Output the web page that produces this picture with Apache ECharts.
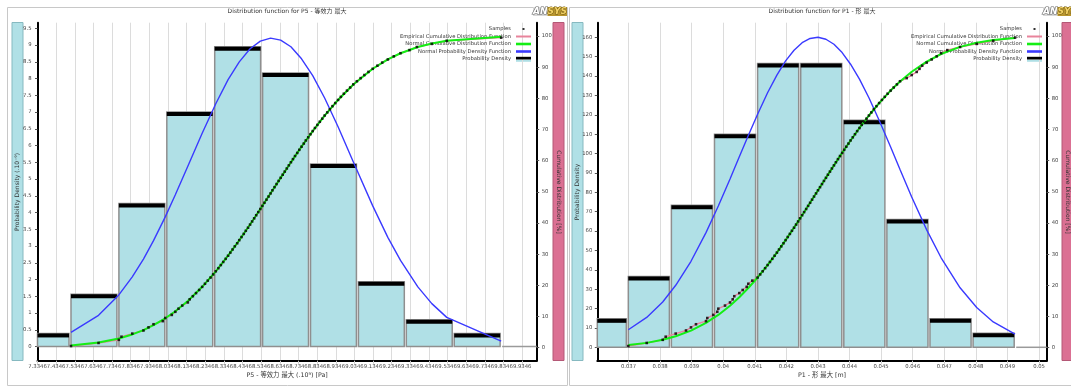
<!DOCTYPE html>
<html>
<head>
<meta charset="utf-8">
<script src="https://cdn.jsdelivr.net/npm/echarts@6/dist/echarts.min.js"></script>
<style>
  html, body { margin: 0; padding: 0; background: #fff; }
  #chart { width: 1071px; height: 387px; }
</style>
</head>
<body>
<div id="chart"></div>
<script>
// ---- P5 (等效力) ----
const p5BinEdges = [7.2573, 7.5143, 7.7713, 8.0283, 8.2853, 8.5422, 8.7992, 9.0562, 9.3131, 9.5701, 9.8271, 10.084];
const p5BinHeights = [0.39, 1.56, 4.27, 7.0, 8.95, 8.17, 5.45, 1.93, 0.8, 0.39, 0];
const p5Samples = [
  7.5143, 7.662, 7.771, 7.785, 7.843, 7.903, 7.930, 7.957, 8.007, 8.020,
  8.055, 8.074, 8.091, 8.111, 8.141, 8.151, 8.168, 8.185, 8.202, 8.218,
  8.233, 8.248, 8.263, 8.277, 8.291, 8.305, 8.318, 8.331, 8.344, 8.357,
  8.369, 8.381, 8.393, 8.406, 8.417, 8.429, 8.441, 8.452, 8.464, 8.475,
  8.486, 8.497, 8.508, 8.519, 8.530, 8.541, 8.552, 8.563, 8.574, 8.585,
  8.595, 8.606, 8.617, 8.628, 8.639, 8.650, 8.661, 8.672, 8.683, 8.694,
  8.705, 8.716, 8.728, 8.739, 8.751, 8.763, 8.774, 8.787, 8.799, 8.811,
  8.823, 8.836, 8.849, 8.862, 8.875, 8.889, 8.903, 8.917, 8.932, 8.947,
  8.962, 8.978, 8.995, 9.012, 9.029, 9.048, 9.068, 9.088, 9.110, 9.133,
  9.158, 9.184, 9.214, 9.246, 9.282, 9.330, 9.370, 9.450, 9.530, 9.822
];
const p5FitX = [7.5143, 7.662, 7.771, 7.843, 7.903, 7.957, 8.020, 8.074, 8.141, 8.218,
  8.291, 8.357, 8.417, 8.475, 8.530, 8.585, 8.639, 8.694, 8.751, 8.811,
  8.875, 8.947, 9.029, 9.133, 9.214, 9.282, 9.375, 9.45, 9.53, 9.822];
const p5NormalCdf = [0.65, 1.61, 2.93, 4.23, 5.63, 7.19, 9.41, 11.66, 14.99, 19.52,
  24.48, 29.53, 34.46, 39.51, 44.49, 49.54, 54.50, 59.48, 64.50, 69.50,
  74.48, 79.51, 84.47, 89.51, 92.52, 94.50, 96.51, 97.65, 98.50, 99.78];
const p5NormalPdf = [0.42, 0.93, 1.54, 2.08, 2.61, 3.16, 3.87, 4.53, 5.38, 6.37,
  7.25, 7.97, 8.50, 8.89, 9.12, 9.21, 9.15, 8.95, 8.59, 8.09,
  7.42, 6.56, 5.51, 4.20, 3.26, 2.57, 1.78, 1.28, 0.87, 0.16];
const p5XTicks = [7.3346, 7.4346, 7.5346, 7.6346, 7.7346, 7.8346, 7.9346, 8.0346, 8.1346,
  8.2346, 8.3346, 8.4346, 8.5346, 8.6346, 8.7346, 8.8346, 8.9346, 9.0346, 9.1346,
  9.2346, 9.3346, 9.4346, 9.5346, 9.6346, 9.7346, 9.8346, 9.9346];
const p5DensityTicks = [0, 0.5, 1, 1.5, 2, 2.5, 3, 3.5, 4, 4.5, 5, 5.5, 6, 6.5, 7, 7.5, 8, 8.5, 9, 9.5];

// ---- P1 (形) ----
const p1BinEdges = [0.035629, 0.036994, 0.038358, 0.039723, 0.041088, 0.042453, 0.043818,
  0.045182, 0.046547, 0.047912, 0.049277, 0.050641];
const p1BinHeights = [14.7, 36.6, 73.3, 110, 146.5, 146.5, 117.2, 66, 14.7, 7.3, 0];
const p1Samples = [
  0.036994, 0.037576, 0.038083, 0.038178, 0.038495, 0.038821, 0.038979, 0.039137, 0.039454, 0.039495,
  0.039685, 0.039812, 0.039844, 0.040056, 0.040215, 0.040300, 0.040350, 0.040509, 0.040616, 0.040743,
  0.040794, 0.040920, 0.041088, 0.041170, 0.041250, 0.041327, 0.041404, 0.041479, 0.041554, 0.041626,
  0.041699, 0.041768, 0.041838, 0.041908, 0.041975, 0.042043, 0.042110, 0.042175, 0.042242, 0.042307,
  0.042372, 0.042434, 0.042499, 0.042561, 0.042626, 0.042688, 0.042751, 0.042813, 0.042875, 0.042939,
  0.043001, 0.043065, 0.043127, 0.043189, 0.043252, 0.043314, 0.043379, 0.043441, 0.043506, 0.043568,
  0.043633, 0.043698, 0.043765, 0.043830, 0.043897, 0.043965, 0.044032, 0.044102, 0.044172, 0.044241,
  0.044314, 0.044386, 0.044461, 0.044536, 0.044613, 0.044690, 0.044770, 0.044852, 0.044937, 0.045024,
  0.045114, 0.045204, 0.045301, 0.045398, 0.045500, 0.045598, 0.045810, 0.045968, 0.046126, 0.046215,
  0.046300, 0.046443, 0.046601, 0.046759, 0.046900, 0.047095, 0.047500, 0.048026, 0.048550, 0.049240
];
const p1FitX = [0.036994, 0.037576, 0.038083, 0.038495, 0.038979, 0.039454, 0.039844, 0.040215,
  0.040509, 0.040794, 0.041088, 0.041404, 0.041699, 0.041975, 0.042242, 0.042499, 0.042751,
  0.043001, 0.043252, 0.043506, 0.043765, 0.044032, 0.044314, 0.044613, 0.044937, 0.045301,
  0.045598, 0.045968, 0.046443, 0.046900, 0.047500, 0.048026, 0.048550, 0.049240];
const p1NormalCdf = [0.83, 1.52, 2.50, 3.63, 5.47, 7.93, 10.49, 13.46, 16.18, 19.13, 22.51,
  26.50, 30.50, 34.49, 38.51, 42.50, 46.50, 50.50, 54.50, 58.51, 62.51, 66.49, 70.51, 74.51,
  78.49, 82.51, 85.41, 88.55, 91.82, 94.25, 96.54, 97.87, 98.74, 99.40];
const p1NormalPdf = [9.04, 15.4, 23.4, 32.0, 44.4, 59.2, 72.9, 86.9, 98.3, 109.3, 120.3,
  131.4, 140.5, 147.8, 153.3, 157.2, 159.4, 160.0, 159.0, 156.4, 152.1, 146.1, 138.4, 128.8,
  117.2, 103.4, 91.8, 77.6, 60.6, 46.2, 30.7, 20.5, 13.1, 6.75];
const p1XTicks = [0.037, 0.038, 0.039, 0.04, 0.041, 0.042, 0.043, 0.044, 0.045, 0.046, 0.047, 0.048, 0.049, 0.05];
const p1DensityTicks = [0, 10, 20, 30, 40, 50, 60, 70, 80, 90, 100, 110, 120, 130, 140, 150, 160];

// shared
const sampleCumulative = [
  0.5, 1.5, 2.5, 3.5, 4.5, 5.5, 6.5, 7.5, 8.5, 9.5,
  10.5, 11.5, 12.5, 13.5, 14.5, 15.5, 16.5, 17.5, 18.5, 19.5,
  20.5, 21.5, 22.5, 23.5, 24.5, 25.5, 26.5, 27.5, 28.5, 29.5,
  30.5, 31.5, 32.5, 33.5, 34.5, 35.5, 36.5, 37.5, 38.5, 39.5,
  40.5, 41.5, 42.5, 43.5, 44.5, 45.5, 46.5, 47.5, 48.5, 49.5,
  50.5, 51.5, 52.5, 53.5, 54.5, 55.5, 56.5, 57.5, 58.5, 59.5,
  60.5, 61.5, 62.5, 63.5, 64.5, 65.5, 66.5, 67.5, 68.5, 69.5,
  70.5, 71.5, 72.5, 73.5, 74.5, 75.5, 76.5, 77.5, 78.5, 79.5,
  80.5, 81.5, 82.5, 83.5, 84.5, 85.5, 86.5, 87.5, 88.5, 89.5,
  90.5, 91.5, 92.5, 93.5, 94.5, 95.5, 96.5, 97.5, 98.5, 99.5
];
const cumulativeTicks = [0, 10, 20, 30, 40, 50, 60, 70, 80, 90, 100];

const FONT = 'DejaVu Sans, Noto Sans CJK SC';
const LIGHT_BLUE = '#b0e0e6';

function pairs(xs, ys) { return xs.map((x, i) => [x, ys[i]]); }
function bins(edges, heights) { return heights.map((h, i) => [edges[i], edges[i + 1], h]); }

// histogram bar: light blue body, grey outline, black cap
function renderBin(params, api) {
  const cs = params.coordSys;
  const lo = api.coord([api.value(0), 0]);
  const hi = api.coord([api.value(1), api.value(2)]);
  const x0 = Math.max(lo[0], cs.x);
  const x1 = Math.min(hi[0] - 2, cs.x + cs.width);
  if (x1 <= x0) return;
  const base = lo[1], top = hi[1];
  if (api.value(2) <= 0) {
    return { type: 'line', shape: { x1: x0, y1: base, x2: x1, y2: base },
      style: { stroke: '#9a9a9a', lineWidth: 1.5 } };
  }
  return {
    type: 'group',
    children: [
      { type: 'rect', shape: { x: x0, y: top, width: x1 - x0, height: base - top },
        style: { fill: LIGHT_BLUE, stroke: '#8f8f8f', lineWidth: 1.5 } },
      { type: 'rect', shape: { x: x0, y: top, width: x1 - x0, height: 4 }, style: { fill: '#000' } }
    ]
  };
}

function panelSeries(k, edges, heights, samples, fitX, cdf, pdf) {
  const yl = 2 * k, yr = 2 * k + 1;
  return [
    { type: 'custom', name: 'Probability Density', xAxisIndex: k, yAxisIndex: yl,
      renderItem: renderBin, data: bins(edges, heights), encode: { x: [0, 1], y: 2 },
      itemStyle: { color: '#000' }, z: 2 },
    { type: 'line', name: 'Normal Probability Density Function', xAxisIndex: k, yAxisIndex: yl,
      data: pairs(fitX, pdf), showSymbol: false, itemStyle: { color: '#3a3aff' },
      lineStyle: { color: '#3a3aff', width: 1.4 }, z: 3 },
    { type: 'line', name: 'Empirical Cumulative Distribution Function', xAxisIndex: k, yAxisIndex: yr,
      data: pairs(samples, sampleCumulative), showSymbol: false, itemStyle: { color: '#e8849c' },
      lineStyle: { color: '#e8849c', width: 1.4 }, z: 4 },
    { type: 'line', name: 'Normal Cumulative Distribution Function', xAxisIndex: k, yAxisIndex: yr,
      data: pairs(fitX, cdf), showSymbol: false, itemStyle: { color: '#14ee14' },
      lineStyle: { color: '#14ee14', width: 2 }, z: 5 },
    { type: 'scatter', name: 'Samples', xAxisIndex: k, yAxisIndex: yr,
      data: pairs(samples, sampleCumulative), symbol: 'rect', symbolSize: 2.6,
      itemStyle: { color: '#000' }, z: 6 }
  ];
}

const labelStyle = { fontSize: 5.3, color: '#444', fontFamily: FONT };

function xAxisFor(k, min, max, ticks, name, fmt) {
  return {
    gridIndex: k, type: 'value', min, max,
    name, nameLocation: 'middle', nameGap: 12, nameMoveOverlap: false,
    nameTextStyle: { fontSize: 6.3, color: '#333', fontFamily: FONT },
    axisLine: { onZero: false, lineStyle: { color: '#000', width: 2 } },
    axisTick: { show: true, customValues: ticks, length: 3, lineStyle: { color: '#c8c8c8' } },
    axisLabel: Object.assign({ customValues: ticks, margin: 3, formatter: fmt }, labelStyle),
    splitLine: { show: true, lineStyle: { color: '#dcdcdc', width: 1 } }
  };
}

function yAxisFor(k, position, min, max, ticks, margin) {
  return {
    gridIndex: k, type: 'value', position, min, max,
    axisLine: { show: true, onZero: false, lineStyle: { color: '#000', width: 2 } },
    axisTick: { show: true, customValues: ticks, length: 2.5, lineStyle: { color: '#555' } },
    axisLabel: Object.assign({ customValues: ticks, margin, formatter: v => String(v) }, labelStyle),
    splitLine: { show: false }
  };
}

function legendFor(right) {
  const bar = 'path://M0,0M15,5M0,1.2h15v2.6h-15z';
  return {
    orient: 'vertical', right, top: 25.25, align: 'right', padding: 0, itemGap: 0,
    itemWidth: 15, itemHeight: 5, selectedMode: false,
    textStyle: { fontSize: 5.2, color: '#333', lineHeight: 7.5, fontFamily: FONT },
    data: [
      { name: 'Samples', icon: 'path://M0,0M15,5M6.5,1.5h2v2h-2z' },
      { name: 'Empirical Cumulative Distribution Function', icon: 'path://M0,0M15,5M0,1.5h15v2h-15z' },
      { name: 'Normal Cumulative Distribution Function', icon: bar },
      { name: 'Normal Probability Density Function', icon: bar },
      { name: 'Probability Density', icon: 'path://M0,0M15,5M0,0.3h15v2.7h-15z' }
    ]
  };
}

function strip(x, fill, stroke, text, rot) {
  return [
    { type: 'rect', shape: { x, y: 22.5, width: 11, height: 338 },
      style: { fill, stroke, lineWidth: 1 } },
    { type: 'text', x: x + 5.5, y: 192, rotation: rot,
      style: { text, fontSize: 6, fill: '#333', align: 'center', verticalAlign: 'middle', fontFamily: FONT } }
  ];
}

function logo(x) {
  return { type: 'text', x, y: 7,
    style: {
      text: '{a|AN}{s|SYS}',
      rich: {
        a: { fontSize: 9, fontWeight: 'bold', fontStyle: 'italic', fontFamily: 'DejaVu Sans',
             fill: '#fff', stroke: '#6a6a6a', lineWidth: 1.2, backgroundColor: '#d8d8d8' },
        s: { fontSize: 9, fontWeight: 'bold', fontStyle: 'italic', fontFamily: 'DejaVu Sans',
             fill: '#f3d266', stroke: '#6b5510', lineWidth: 0.8, backgroundColor: '#b8952e' }
      }
    } };
}

const chart = echarts.init(document.getElementById('chart'), null, { renderer: 'canvas' });

chart.setOption({
  animation: false,
  backgroundColor: '#fff',
  title: [
    { text: 'Distribution function for P5 - 等效力 最大', left: 287, top: 8.5, textAlign: 'center', padding: 0,
      textStyle: { fontSize: 6, fontWeight: 'normal', color: '#333', fontFamily: FONT } },
    { text: 'Distribution function for P1 - 形 最大', left: 822, top: 8.5, textAlign: 'center', padding: 0,
      textStyle: { fontSize: 6, fontWeight: 'normal', color: '#333', fontFamily: FONT } }
  ],
  legend: [legendFor(540), legendFor(29)],
  grid: [
    { left: 37.5, right: 534.3, top: 22.7, bottom: 26.3, outerBoundsMode: 'none' },
    { left: 597.3, right: 24.3, top: 22.7, bottom: 26.3, outerBoundsMode: 'none' }
  ],
  xAxis: [
    xAxisFor(0, 7.3346, 10.0126, p5XTicks, 'P5 - 等效力 最大 (.10⁹) [Pa]', v => v.toFixed(4)),
    xAxisFor(1, 0.036012, 0.050243, p1XTicks, 'P1 - 形 最大 [m]', v => String(+v.toFixed(6)))
  ],
  yAxis: [
    yAxisFor(0, 'left', -0.424, 9.669, p5DensityTicks, 6),
    yAxisFor(0, 'right', -4.2, 104.3, cumulativeTicks, 5),
    yAxisFor(1, 'left', -6.92, 167.53, p1DensityTicks, 5),
    yAxisFor(1, 'right', -4.2, 104.3, cumulativeTicks, 5)
  ],
  series: [].concat(
    panelSeries(0, p5BinEdges, p5BinHeights, p5Samples, p5FitX, p5NormalCdf, p5NormalPdf),
    panelSeries(1, p1BinEdges, p1BinHeights, p1Samples, p1FitX, p1NormalCdf, p1NormalPdf)
  ),
  graphic: [].concat(
    [
      { type: 'rect', shape: { x: 7.5, y: 7.5, width: 560, height: 378 },
        style: { fill: 'none', stroke: '#c8c8c8', lineWidth: 1 } },
      { type: 'rect', shape: { x: 569.5, y: 7.5, width: 520, height: 378 },
        style: { fill: 'none', stroke: '#c8c8c8', lineWidth: 1 } },
      // light blue half of the "Probability Density" legend key
      { type: 'rect', shape: { x: 516, y: 59.6, width: 15, height: 2.2 }, style: { fill: LIGHT_BLUE } },
      { type: 'rect', shape: { x: 1027, y: 59.6, width: 15, height: 2.2 }, style: { fill: LIGHT_BLUE } },
      logo(533), logo(1043)
    ],
    strip(12, LIGHT_BLUE, '#86b9c0', 'Probability Density (.10⁻⁹)', Math.PI / 2),
    strip(553, '#db7093', '#b45876', 'Cumulative Distribution [%]', -Math.PI / 2),
    strip(572, LIGHT_BLUE, '#86b9c0', 'Probability Density', Math.PI / 2),
    strip(1062, '#db7093', '#b45876', 'Cumulative Distribution [%]', -Math.PI / 2)
  )
});
</script>
</body>
</html>
